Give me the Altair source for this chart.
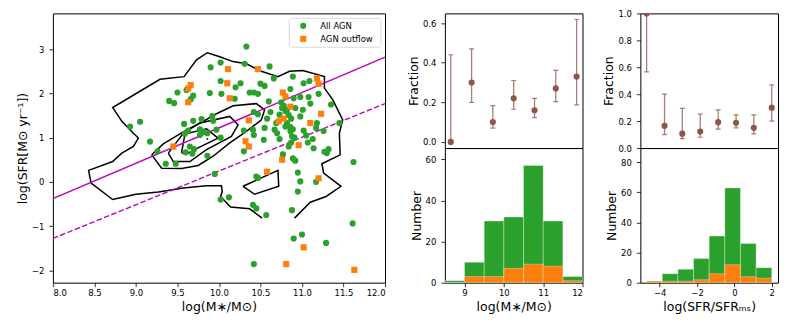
import altair as alt
import pandas as pd

# ---------------- scatter data ----------------
agn_mass = [10.33, 10.02, 9.90, 10.31, 10.61, 10.66, 10.89, 10.02, 10.26, 10.20, 10.50, 10.55, 11.02, 11.09,
            9.61, 9.50, 9.89, 10.03, 10.37, 10.42, 10.47, 9.69, 9.66, 10.19, 9.40, 9.46, 10.60, 10.86, 10.90,
            10.98, 11.08, 11.20, 11.10, 11.35, 10.78, 10.82, 10.92, 11.01, 10.76, 10.42, 10.47, 10.62, 10.58,
            10.73, 10.84, 10.87, 10.98, 10.69, 10.82, 10.86, 10.89, 10.80, 10.55, 10.30, 10.41, 10.42, 10.67,
            11.02, 11.17, 11.18, 11.26, 11.13, 11.07, 11.14, 10.73, 10.88, 10.87, 10.54, 10.30, 10.77, 10.89,
            10.92, 11.27, 11.32, 11.30, 11.45, 11.62, 10.95, 10.98, 11.17, 10.95, 10.88, 10.90, 11.00, 11.29,
            11.61, 10.42, 10.02, 10.12, 10.41, 10.45, 10.57, 10.45, 10.47, 9.95, 8.93, 9.05, 9.17, 9.26, 9.36,
            9.48, 9.58, 9.69, 9.79, 9.92, 9.93, 9.63, 9.59, 9.77, 9.81, 9.86, 9.97, 9.65, 9.70, 9.60, 9.68,
            9.86, 10.02, 9.77, 10.75, 10.80, 10.70, 10.86, 10.91, 11.05, 10.84]
agn_sfr = [3.06, 2.70, 2.59, 2.67, 2.61, 2.34, 2.38, 2.28, 2.23, 2.14, 2.22, 2.17, 2.23, 2.28,
           2.08, 2.02, 2.01, 1.99, 2.02, 2.02, 1.99, 1.95, 1.87, 1.88, 1.83, 1.78, 1.82, 2.10, 1.89,
           1.92, 1.92, 1.99, 1.77, 1.75, 1.72, 1.63, 1.67, 1.63, 1.67, 1.58, 1.53, 1.58, 1.43,
           1.52, 1.51, 1.43, 1.48, 1.33, 1.33, 1.24, 1.19, 1.25, 1.22, 1.16, 1.18, 1.06, 1.18,
           1.16, 1.22, 1.33, 1.15, 0.97, 0.89, 0.76, 0.97, 1.03, 0.89, 0.95, 0.69, 0.62, 0.53,
           0.48, 0.68, 0.74, 0.65, 1.33, 0.45, 0.21, 0.01, 0.00, -0.22, -0.64, -1.28, -1.19, -1.38,
           -0.94, -1.86, -0.40, -0.35, -0.52, -0.60, -0.75, 0.12, 0.09, 0.18, 1.25, 1.36, 0.91, 0.69, 0.41,
           0.41, 1.31, 1.38, 1.42, 1.49, 1.38, 1.16, 1.09, 1.19, 1.13, 1.10, 1.18, 0.80, 0.74, 0.67, 0.64,
           0.59, 1.00, 1.06, 1.80, 1.60, 1.10, 1.15, 1.00, 1.05, 0.80]
out_mass = [10.11, 10.47, 10.10, 9.66, 9.63, 9.63, 10.13, 10.77, 10.80, 10.86, 11.18, 11.20, 11.23, 10.36,
            10.78, 10.72, 11.10, 10.32, 10.36, 9.45, 10.96, 10.76, 10.58, 11.20, 11.02, 10.81, 11.63]
out_sfr = [2.55, 2.55, 2.23, 2.19, 2.11, 1.80, 1.89, 2.02, 1.93, 1.70, 2.34, 2.22, 1.54, 1.39,
           1.43, 1.37, 1.33, 0.92, 0.80, 0.80, 0.83, 0.50, 0.23, 0.08, -1.48, -1.86, -1.99]
legend_labels = ["All AGN", "AGN outflow"]

# ---------------- contour data ----------------
c1_x = [10.52, 10.37, 10.14, 10.02, 10.04, 10.03, 9.85, 9.57, 9.27, 9.00, 8.72, 8.46, 8.43, 8.72, 8.83,
        8.97, 9.03, 8.97, 8.83, 8.72, 9.29, 9.58, 9.73, 9.86, 10.01, 10.17, 10.33, 10.51, 10.71, 10.85,
        11.01, 11.27, 11.27, 11.37, 11.49, 11.45, 11.46, 11.24, 11.26, 11.47, 11.29, 11.10, 10.91]
c1_y = [-0.82, -0.61, -0.57, -0.33, -0.22, -0.09, -0.09, -0.14, -0.23, -0.28, -0.40, -0.03, 0.26, 0.46, 0.65,
        0.80, 0.99, 1.10, 1.37, 1.68, 2.32, 2.38, 2.76, 2.92, 2.83, 2.72, 2.67, 2.50, 2.38, 2.50,
        2.52, 2.38, 2.12, 1.86, 1.40, 1.10, 0.61, 0.41, 0.20, -0.10, -0.33, -0.46, -0.82]
c2_x = [9.19, 9.33, 9.56, 9.81, 9.97, 10.17, 10.45, 10.55, 10.51, 10.33, 10.13, 9.93, 9.75, 9.55, 9.31, 9.19]
c2_y = [0.61, 0.86, 1.12, 1.37, 1.54, 1.72, 1.77, 1.63, 1.40, 1.14, 0.88, 0.58, 0.37, 0.30, 0.31, 0.61]
c3_x = [9.39, 9.57, 9.77, 10.13, 10.23, 10.15, 9.85, 9.65, 9.45, 9.39]
c3_y = [0.65, 1.10, 1.33, 1.48, 1.29, 1.03, 0.73, 0.46, 0.46, 0.65]
c4_x = [9.55, 9.59, 9.85, 9.99, 9.76, 9.60, 9.55]
c4_y = [0.66, 1.08, 1.20, 0.99, 0.78, 0.62, 0.66]
c5_x = [10.29, 10.71, 10.72, 10.43, 10.29]
c5_y = [-0.10, 0.26, -0.10, -0.28, -0.10]
peak_x = [9.86]
peak_y = [0.97]

# ---------------- main-sequence lines ----------------
ms_x = [8.0, 12.0]
ms_y = [-0.38, 2.82]
ms_low_y = [-1.28, 1.77]

# ---------------- histograms ----------------
mass_lo = [8.5, 9.0, 9.5, 10.0, 10.5, 11.0, 11.5]
mass_hi = [9.0, 9.5, 10.0, 10.5, 11.0, 11.5, 12.0]
mass_all = [1, 10, 30, 32, 57, 30, 3]
mass_out = [0, 3, 3, 7, 9, 8, 1]

sfr_lo = [-4.7, -3.8625, -3.025, -2.1875, -1.35, -0.5125, 0.325, 1.1625]
sfr_hi = [-3.8625, -3.025, -2.1875, -1.35, -0.5125, 0.325, 1.1625, 2.0]
sfr_all = [1, 6, 9, 16, 31, 63, 26, 10]
sfr_out = [1, 1, 1, 2, 6, 12, 4, 3]

# ---------------- fractions ----------------
mfrac_x = [8.65, 9.18, 9.72, 10.25, 10.78, 11.32, 11.85]
mfrac = [0.0, 0.30, 0.10, 0.22, 0.16, 0.27, 0.33]
mfrac_lo = [0.0, 0.20, 0.07, 0.165, 0.123, 0.203, 0.187]
mfrac_hi = [0.44, 0.47, 0.183, 0.31, 0.22, 0.361, 0.618]

sfrac_x = [-4.7, -3.74, -2.79, -1.83, -0.87, 0.09, 1.04, 2.0]
sfrac = [1.0, 0.165, 0.107, 0.122, 0.192, 0.187, 0.15, 0.30]
sfrac_lo = [0.566, 0.10, 0.07, 0.08, 0.14, 0.15, 0.105, 0.20]
sfrac_hi = [1.0, 0.40, 0.294, 0.252, 0.284, 0.247, 0.247, 0.469]

GREEN = "#2ca02c"
ORANGE = "#ff7f0e"
BROWN = "#8c564b"
MAG = "#bf00bf"
FONT = "DejaVu Sans"

# ---------------- scatter panel ----------------
xs = alt.Scale(domain=[8.0, 12.0], nice=False, zero=False)
ys = alt.Scale(domain=[-2.28, 3.81], nice=False, zero=False)
xax = alt.Axis(values=[8.0, 8.5, 9.0, 9.5, 10.0, 10.5, 11.0, 11.5, 12.0], format=".1f",
               title="log(M∗/M⊙)")
yax = alt.Axis(values=[-2, -1, 0, 1, 2, 3], format="d", title="log(SFR[M⊙ yr⁻¹])")

agn_df = pd.DataFrame({"m": agn_mass, "s": agn_sfr})
out_df = pd.DataFrame({"m": out_mass, "s": out_sfr})
one = pd.DataFrame({"k": [0]})

rows = []
for cid, (cx, cy) in enumerate([(c1_x, c1_y), (c2_x, c2_y), (c3_x, c3_y), (c4_x, c4_y), (c5_x, c5_y)]):
    for i, (a, b) in enumerate(zip(cx, cy)):
        rows.append({"cid": cid, "i": i, "m": a, "s": b})
cont = pd.DataFrame(rows)

contours = alt.Chart(cont).mark_line(color="black", strokeWidth=1.5, clip=True).encode(
    x=alt.X("m:Q", scale=xs, axis=xax),
    y=alt.Y("s:Q", scale=ys, axis=yax),
    detail="cid:N",
    order="i:Q",
)
peak = alt.Chart(pd.DataFrame({"m": peak_x, "s": peak_y})).mark_circle(color="black", size=3, opacity=1).encode(
    x=alt.X("m:Q", scale=xs), y=alt.Y("s:Q", scale=ys))

lines_df = pd.DataFrame({"m": ms_x, "s": ms_y, "s2": ms_low_y})
ms_line = alt.Chart(lines_df).mark_line(color=MAG, strokeWidth=1.4, clip=True).encode(
    x=alt.X("m:Q", scale=xs), y=alt.Y("s:Q", scale=ys))
ms_dash = alt.Chart(lines_df).mark_line(color=MAG, strokeWidth=1.4, strokeDash=[5.5, 2.4], clip=True).encode(
    x=alt.X("m:Q", scale=xs), y=alt.Y("s2:Q", scale=ys))

agn_pts = alt.Chart(agn_df).mark_point(filled=True, opacity=1, size=38, strokeWidth=0, shape="circle",
                                       color=GREEN).encode(
    x=alt.X("m:Q", scale=xs), y=alt.Y("s:Q", scale=ys))
out_pts = alt.Chart(out_df).mark_point(filled=True, opacity=1, size=38, strokeWidth=0, shape="square",
                                       color=ORANGE).encode(
    x=alt.X("m:Q", scale=xs), y=alt.Y("s:Q", scale=ys))

# legend box (drawn inside the scatter panel)
leg_box = alt.Chart(one).mark_rect(fill="white", fillOpacity=0.85, stroke="#d0d0d0", strokeWidth=0.8,
                                   cornerRadius=3).encode(
    x=alt.value(237), x2=alt.value(329), y=alt.value(5), y2=alt.value(34))
leg_s1 = alt.Chart(one).mark_point(filled=True, opacity=1, size=38, strokeWidth=0, shape="circle",
                                   color=GREEN).encode(x=alt.value(251), y=alt.value(12.5))
leg_s2 = alt.Chart(one).mark_point(filled=True, opacity=1, size=38, strokeWidth=0, shape="square",
                                   color=ORANGE).encode(x=alt.value(251), y=alt.value(25.5))
leg_t1 = alt.Chart(one).mark_text(text=legend_labels[0], align="left", baseline="middle", fontSize=8.5,
                                  font=FONT, color="black").encode(x=alt.value(268), y=alt.value(12.5))
leg_t2 = alt.Chart(one).mark_text(text=legend_labels[1], align="left", baseline="middle", fontSize=8.5,
                                  font=FONT, color="black").encode(x=alt.value(268), y=alt.value(25.5))

scatter = alt.layer(contours, ms_line, ms_dash, agn_pts, out_pts, peak,
                    leg_box, leg_s1, leg_s2, leg_t1, leg_t2).properties(width=333, height=270)


# ---------------- histogram + fraction panels ----------------
def frac_panel(x, f, lo, hi, xdom, ydom, yvals):
    df = pd.DataFrame({"x": x, "f": f, "lo": lo, "hi": hi})
    sx = alt.Scale(domain=xdom, nice=False, zero=False)
    sy = alt.Scale(domain=ydom, nice=False, zero=False)
    ya = alt.Axis(values=yvals, format=".1f", title="Fraction", labelOverlap=False)
    base = alt.Chart(df)
    rule = base.mark_rule(color=BROWN, opacity=0.75, strokeWidth=1.3, clip=True).encode(
        x=alt.X("x:Q", scale=sx, axis=None), y=alt.Y("lo:Q", scale=sy, axis=ya), y2="hi:Q")
    cap_lo = base.mark_tick(color=BROWN, opacity=0.75, orient="horizontal", size=5, thickness=1.2,
                            clip=True).encode(x=alt.X("x:Q", scale=sx, axis=None),
                                              y=alt.Y("lo:Q", scale=sy, axis=ya))
    cap_hi = base.mark_tick(color=BROWN, opacity=0.75, orient="horizontal", size=5, thickness=1.2,
                            clip=True).encode(x=alt.X("x:Q", scale=sx, axis=None),
                                              y=alt.Y("hi:Q", scale=sy, axis=ya))
    dots = base.mark_circle(color=BROWN, opacity=1, size=38, clip=True).encode(
        x=alt.X("x:Q", scale=sx, axis=None), y=alt.Y("f:Q", scale=sy, axis=ya))
    return alt.layer(rule, cap_lo, cap_hi, dots).properties(width=138, height=135)


def hist_panel(lo, hi, allc, outc, xdom, ydom, xvals, yvals, xtitle):
    df = pd.DataFrame({"lo": lo, "hi": hi, "a": allc, "b": outc})
    sx = alt.Scale(domain=xdom, nice=False, zero=False)
    sy = alt.Scale(domain=ydom, nice=False)
    xa = alt.Axis(values=xvals, format="d", title=xtitle, labelOverlap=False)
    ya = alt.Axis(values=yvals, format="d", title="Number", labelOverlap=False)
    base = alt.Chart(df)
    g = base.mark_rect(color=GREEN, stroke="white", strokeOpacity=0.4, strokeWidth=0.8, clip=True).encode(
        x=alt.X("lo:Q", scale=sx, axis=xa), x2="hi:Q", y=alt.Y("a:Q", scale=sy, axis=ya), y2=alt.datum(0))
    o = base.mark_rect(color=ORANGE, stroke="white", strokeOpacity=0.4, strokeWidth=0.8, clip=True).encode(
        x=alt.X("lo:Q", scale=sx, axis=xa), x2="hi:Q", y=alt.Y("b:Q", scale=sy, axis=ya), y2=alt.datum(0))
    return alt.layer(g, o).properties(width=138, height=135)


mid = alt.vconcat(
    frac_panel(mfrac_x, mfrac, mfrac_lo, mfrac_hi, [8.5, 12.0], [-0.031, 0.649], [0.0, 0.2, 0.4, 0.6]),
    hist_panel(mass_lo, mass_hi, mass_all, mass_out, [8.5, 12.0], [0, 65.5], [9, 10, 11, 12],
               [0, 20, 40, 60], "log(M∗/M⊙)"),
    spacing=0, bounds="flush",
).resolve_scale(x="independent", y="independent")
right = alt.vconcat(
    frac_panel(sfrac_x, sfrac, sfrac_lo, sfrac_hi, [-5.035, 2.335], [0.0, 1.0],
               [0.0, 0.2, 0.4, 0.6, 0.8, 1.0]),
    hist_panel(sfr_lo, sfr_hi, sfr_all, sfr_out, [-5.035, 2.335], [0, 89.5], [-4, -2, 0, 2],
               [0, 20, 40, 60, 80], "log(SFR/SFRₘₛ)"),
    spacing=0, bounds="flush",
).resolve_scale(x="independent", y="independent")

chart = alt.hconcat(
    scatter,
    alt.hconcat(mid, right, spacing=18).resolve_scale(x="independent", y="independent"),
    spacing=20,
).resolve_scale(x="independent", y="independent").properties(
    padding={"left": 7, "top": 0, "right": 2, "bottom": 2}
).configure(font=FONT).configure_view(
    stroke="black", strokeWidth=1
).configure_axis(
    grid=False, domain=False, labelFont=FONT, titleFont=FONT, labelFontSize=8.5, titleFontSize=12.5,
    titleFontWeight="normal", labelColor="black", titleColor="black", tickColor="black",
    tickSize=4, tickWidth=0.8, labelOverlap=False, labelSeparation=0,
).configure_axisX(
    labelPadding=2, titlePadding=3
).configure_axisY(
    labelPadding=5, titlePadding=2
)

chart.save("out.html", embed_options={"renderer": "svg", "actions": False})
